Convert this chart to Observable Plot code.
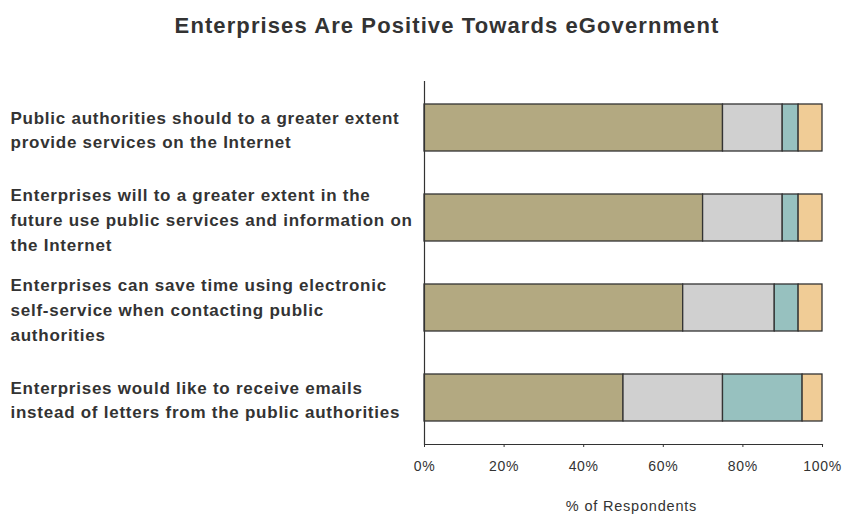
<!DOCTYPE html>
<html>
<head>
<meta charset="utf-8">
<script src="https://cdn.jsdelivr.net/npm/d3@7"></script>
<script src="https://cdn.jsdelivr.net/npm/@observablehq/plot@0.6"></script>
<style>
  html, body { margin: 0; padding: 0; background: #fff; }
  #chart svg { display: block; font-family: "Liberation Sans", Arial, sans-serif; }
</style>
</head>
<body>
<div id="chart"></div>
<script>
const title = "Enterprises Are Positive Towards eGovernment";
const xLabel = "% of Respondents";

const questions = [
  "Public authorities should to a greater extent\nprovide services on the Internet",
  "Enterprises will to a greater extent in the\nfuture use public services and information on\nthe Internet",
  "Enterprises can save time using electronic\nself-service when contacting public\nauthorities",
  "Enterprises would like to receive emails\ninstead of letters from the public authorities"
];

const responses = ["Agree", "Neutral", "Disagree", "Don't know"];
const colors = ["#b3a981", "#d0d0d0", "#97c1bf", "#f0cc96"];

const agree    = [75, 70, 65, 50];
const neutral  = [15, 20, 23, 25];
const disagree = [4, 4, 6, 20];
const dontKnow = [6, 6, 6, 5];

const xTicks = [0, 20, 40, 60, 80, 100];

const series = [agree, neutral, disagree, dontKnow];
const data = [];
questions.forEach((q, i) => {
  responses.forEach((r, j) => {
    data.push({question: q, response: r, value: series[j][i]});
  });
});

const plot = Plot.plot({
  width: 854,
  height: 521,
  marginLeft: 424,
  marginRight: 32,
  marginTop: 81,
  marginBottom: 77,
  style: {fontFamily: "Liberation Sans, Arial, sans-serif", color: "#333", background: "#fff"},
  x: {domain: [0, 100], ticks: xTicks, tickFormat: d => d + "%"},
  y: {domain: questions, paddingInner: 0.48, paddingOuter: 0.24, axis: null},
  color: {domain: responses, range: colors},
  marks: [
    Plot.barX(data, {x: "value", y: "question", fill: "response", stroke: "#333", strokeWidth: 1.3}),
    Plot.ruleX([0], {stroke: "#333", strokeWidth: 1.2}),
    Plot.frame({anchor: "bottom", stroke: "#333", strokeWidth: 1.2}),
    Plot.axisX({ticks: xTicks, tickFormat: d => d + "%", tickSize: 3, tickPadding: 14, fontSize: 14, fill: "#333", stroke: "#333", label: null}),
    Plot.text(questions, {y: d => d, text: d => d, frameAnchor: "left", textAnchor: "start", dx: -414, fontSize: 17, fontWeight: "bold", lineHeight: 1.47, fill: "#333"}),
    Plot.text([title], {frameAnchor: "top-left", text: d => d, dx: 22.5, dy: -64, textAnchor: "middle", fontSize: 22, fontWeight: "bold", fill: "#333"}),
    Plot.text([xLabel], {frameAnchor: "bottom", text: d => d, dx: 8, dy: 66, fontSize: 14.5, fill: "#333"})
  ]
});

// widen letter spacing per text group (reference glyphs are horizontally wide)
const spacing = {"17": "0.75px", "22": "1.1px", "14": "0.7px", "14.5": "0.8px"};
d3.select(plot).selectAll("g").each(function() {
  const fs = this.getAttribute("font-size");
  if (fs && spacing[fs]) this.style.letterSpacing = spacing[fs];
});
document.getElementById("chart").appendChild(plot);
</script>
</body>
</html>
